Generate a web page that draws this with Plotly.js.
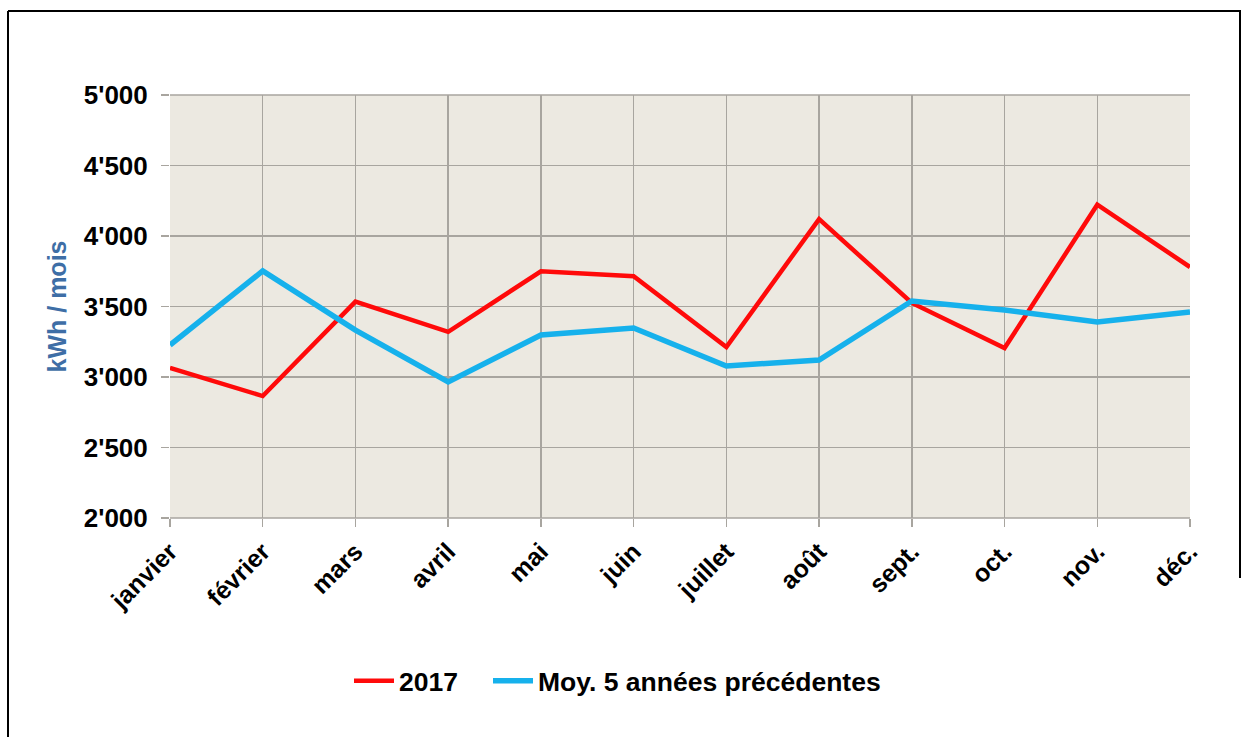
<!DOCTYPE html>
<html>
<head>
<meta charset="utf-8">
<script src="https://cdn.plot.ly/plotly-3.0.1.min.js"></script>
<style>html,body{margin:0;padding:0;background:#fff;}#chart{width:1250px;height:737px;}</style>
</head>
<body>
<div id="chart"></div>
<script>
const months = ["janvier","février","mars","avril","mai","juin","juillet","août","sept.","oct.","nov.","déc."];
const values2017 = [3065, 2865, 3535, 3320, 3750, 3715, 3213, 4120, 3525, 3205, 4222, 3780];
const valuesAvg5 = [3227, 3752, 3333, 2965, 3298, 3348, 3078, 3120, 3539, 3475, 3390, 3461];
const yTickVals = [2000, 2500, 3000, 3500, 4000, 4500, 5000];
const yTickText = ["2'000","2'500","3'000","3'500","4'000","4'500","5'000"];

const traces = [
  {x: months, y: values2017, type: 'scatter', mode: 'lines', name: '2017', legend: 'legend',
   line: {color: '#ff0a0a', width: 4.5}},
  {x: months, y: valuesAvg5, type: 'scatter', mode: 'lines', name: 'Moy. 5 années précédentes', legend: 'legend2',
   line: {color: '#16b1ec', width: 5.5}}
];

const L = 170, R = 1190, T = 95, B = 518, W = 1250, H = 737;
const px = v => (v - L) / (R - L);
const py = v => (B - v) / (B - T);
const legFont = {family: 'Liberation Sans, Arial', size: 26.5, weight: 'bold', color: '#000'};

const layout = {
  width: W, height: H,
  margin: {l: L, r: W - R, t: T, b: H - B, pad: 0},
  paper_bgcolor: '#ffffff',
  plot_bgcolor: '#ece9e1',
  font: {family: 'Liberation Sans, Arial, sans-serif', color: '#000'},
  showlegend: true,
  legend: {orientation: 'h', x: px(349), xanchor: 'left', y: py(681), yanchor: 'middle',
           font: legFont, bgcolor: 'rgba(0,0,0,0)', itemwidth: 40},
  legend2: {orientation: 'h', x: px(488), xanchor: 'left', y: py(681), yanchor: 'middle',
           font: legFont, bgcolor: 'rgba(0,0,0,0)', itemwidth: 40},
  xaxis: {
    type: 'category', range: [0, 11], showgrid: true, gridcolor: '#a8a59f', gridwidth: 1.5,
    zeroline: false, showline: false,
    ticks: 'outside', ticklen: 8, tickcolor: '#a8a59f', tickwidth: 1.5,
    tickangle: -45, tickfont: {size: 25, weight: 'bold', color: '#000'},
    fixedrange: true
  },
  yaxis: {
    range: [2000, 5000], tickvals: yTickVals, ticktext: yTickText,
    showgrid: true, gridcolor: '#a8a59f', gridwidth: 1.5, zeroline: false, showline: false,
    ticks: 'outside', ticklen: 8, tickcolor: '#a8a59f', tickwidth: 1.5,
    ticklabelstandoff: 8,
    tickfont: {size: 26, weight: 'bold', color: '#000'},
    title: {text: 'kWh / mois', font: {size: 25, weight: 'bold', color: '#3e6ea6'}, standoff: 10},
    fixedrange: true
  },
  shapes: [
    {type: 'line', xref: 'paper', yref: 'paper', x0: px(8), x1: px(1241), y0: py(11), y1: py(11), line: {color: '#000', width: 2}},
    {type: 'line', xref: 'paper', yref: 'paper', x0: px(8), x1: px(8), y0: py(11), y1: py(740), line: {color: '#000', width: 2}},
    {type: 'line', xref: 'paper', yref: 'paper', x0: px(1240), x1: px(1240), y0: py(11), y1: py(578), line: {color: '#000', width: 2}},
    {type: 'line', xref: 'paper', yref: 'paper', x0: 0, x1: 1, y0: 1, y1: 1, line: {color: '#a8a59f', width: 1.5}},
    {type: 'line', xref: 'paper', yref: 'paper', x0: 0, x1: 1, y0: 0, y1: 0, line: {color: '#a8a59f', width: 1.5}}
  ]
};

Plotly.newPlot('chart', traces, layout, {displayModeBar: false, staticPlot: true});
</script>
</body>
</html>
